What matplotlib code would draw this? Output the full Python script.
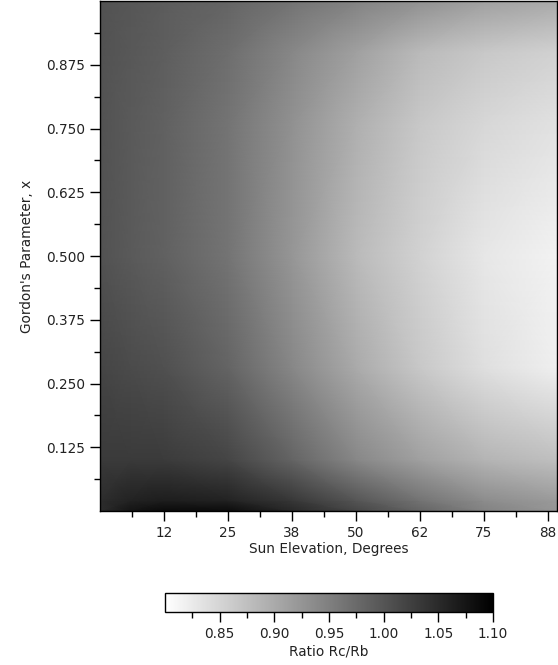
import numpy as np
import matplotlib
matplotlib.use("Agg")
import matplotlib.pyplot as plt
from matplotlib.ticker import FixedLocator

plt.rcParams['font.family'] = ['DejaVu Sans']

# Grid of sun elevation (deg) and Gordon's parameter
elevation = [0, 6, 12.5, 25, 37.5, 50, 62.5, 75, 90]
gordon_x = [0.0, 0.02, 0.1, 0.28, 0.5, 0.76, 0.9, 1.0]

# Ratio Rc/Rb (rows = gordon_x, cols = elevation)
ratio_y000 = [1.047, 1.076, 1.088, 1.086, 1.053, 1.018, 0.982, 0.947, 0.924]
ratio_y002 = [1.047, 1.059, 1.065, 1.059, 1.035, 1.000, 0.965, 0.935, 0.918]
ratio_y010 = [1.032, 1.032, 1.030, 1.018, 0.982, 0.941, 0.912, 0.888, 0.874]
ratio_y028 = [1.018, 1.012, 1.006, 0.982, 0.941, 0.900, 0.865, 0.838, 0.818]
ratio_y050 = [1.003, 0.994, 0.986, 0.963, 0.924, 0.882, 0.853, 0.829, 0.815]
ratio_y076 = [1.003, 0.994, 0.986, 0.963, 0.929, 0.894, 0.865, 0.847, 0.835]
ratio_y090 = [1.003, 0.996, 0.989, 0.971, 0.941, 0.912, 0.882, 0.865, 0.853]
ratio_y100 = [1.003, 0.998, 0.992, 0.982, 0.965, 0.947, 0.929, 0.912, 0.900]

xticks = [12.5, 25, 37.5, 50, 62.5, 75, 87.5]
xtick_labels = ['12', '25', '38', '50', '62', '75', '88']
yticks = [0.125, 0.25, 0.375, 0.5, 0.625, 0.75, 0.875]
ytick_labels = ['0.125', '0.250', '0.375', '0.500', '0.625', '0.750', '0.875']
cbar_ticks = [0.85, 0.90, 0.95, 1.00, 1.05, 1.10]
cbar_labels = ['0.85', '0.90', '0.95', '1.00', '1.05', '1.10']

Z = np.array([ratio_y000, ratio_y002, ratio_y010, ratio_y028,
              ratio_y050, ratio_y076, ratio_y090, ratio_y100])

W, H = 558, 665
fig = plt.figure(figsize=(W / 100, H / 100), dpi=100)
fig.patch.set_facecolor('white')

ax = fig.add_axes([100 / W, (H - 511) / H, 457 / W, 510 / H])
mesh = ax.pcolormesh(elevation, gordon_x, Z, shading='gouraud',
                     cmap='gray_r', vmin=0.80, vmax=1.10)
ax.set_xlim(0, 89.3)
ax.set_ylim(0, 1.0)

fs = 9.8
txt_color = '#222222'
ax.set_xticks(xticks)
ax.set_xticklabels(xtick_labels, fontsize=fs, color=txt_color)
ax.set_yticks(yticks)
ax.set_yticklabels(ytick_labels, fontsize=fs, color=txt_color)
ax.xaxis.set_minor_locator(FixedLocator([6.25 + 12.5 * i for i in range(7)]))
ax.yaxis.set_minor_locator(FixedLocator([0.0625 + 0.125 * i for i in range(8)]))
ax.tick_params(which='major', direction='out', length=7.5, width=1.0, pad=3)
ax.tick_params(which='minor', direction='out', length=4, width=1.0)
ax.set_xlabel('Sun Elevation, Degrees', fontsize=fs, labelpad=2, color=txt_color)
ax.set_ylabel("Gordon's Parameter, x", fontsize=fs, labelpad=9, color=txt_color)
for s in ax.spines.values():
    s.set_linewidth(1.0)

cax = fig.add_axes([165 / W, (H - 612) / H, 328 / W, 19 / H])
cb = fig.colorbar(mesh, cax=cax, orientation='horizontal')
cb.set_ticks(cbar_ticks)
cb.set_ticklabels(cbar_labels)
cax.xaxis.set_minor_locator(FixedLocator([0.825 + 0.05 * i for i in range(6)]))
cax.tick_params(which='major', direction='out', length=7.5, width=1.0,
                labelsize=fs, pad=3, labelcolor=txt_color)
cax.tick_params(which='minor', direction='out', length=4, width=1.0)
cb.outline.set_linewidth(1.0)
cb.set_label('Ratio Rc/Rb', fontsize=fs, labelpad=3, color=txt_color)

fig.savefig('out.png', dpi=100)
